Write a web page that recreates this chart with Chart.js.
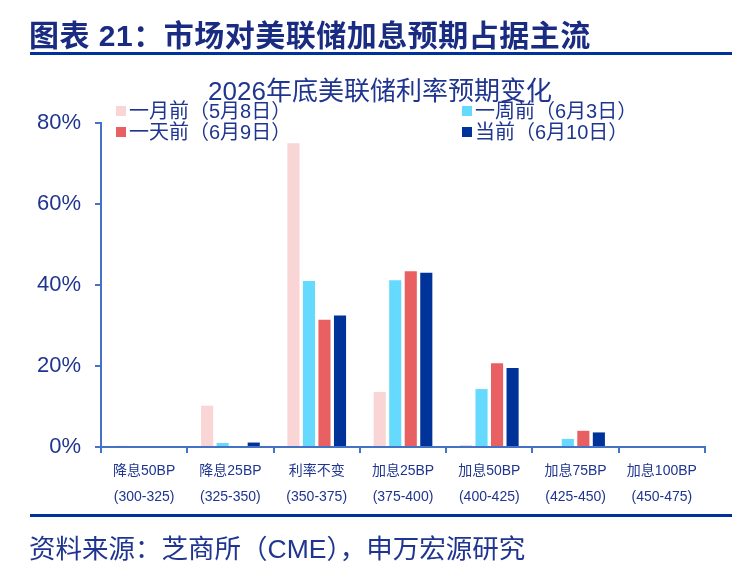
<!DOCTYPE html>
<html>
<head>
<meta charset="utf-8">
<script src="https://cdn.jsdelivr.net/npm/chart.js@4.4.1/dist/chart.umd.min.js"></script>
<style>
  body { margin: 0; width: 732px; height: 566px; background: #fff; position: relative; overflow: hidden;
         font-family: "Liberation Sans", "Noto Sans CJK SC", sans-serif; color: #1f3590; }
  #wrap { position: absolute; left: 0; top: 0; width: 732px; height: 566px; }
  .head { position: absolute; left: 29px; top: 11px; font-size: 30px; font-weight: bold; color: #1a2b82; white-space: nowrap; letter-spacing: 0.5px; }
  .rule { position: absolute; left: 30px; right: 0; height: 3px; background: #003399; }
  .ctitle { position: absolute; left: 0; width: 760px; top: 70px; text-align: center; font-size: 26px; color: #1f3590; }
  .leg { position: absolute; font-size: 20px; color: #1f3590; white-space: nowrap; line-height: 22px; }
  .leg i { display: inline-block; width: 10px; height: 10px; margin-right: 3px; vertical-align: 2px; }
  .foot { position: absolute; left: 29px; top: 527px; font-size: 26.5px; color: #1f3590; white-space: nowrap; }
</style>
</head>
<body>
<div id="wrap"><canvas id="myChart" width="732" height="566"></canvas></div>
<div class="head">图表 21：市场对美联储加息预期占据主流</div>
<div class="rule" style="top:52px"></div>
<div class="ctitle">2026年底美联储利率预期变化</div>
<div id="legend"></div>
<div class="rule" style="top:514px"></div>
<div class="foot">资料来源：芝商所（CME），申万宏源研究</div>
<script>
// categories (two-line tick labels)
const categories = ['降息50BP', '降息25BP', '利率不变', '加息25BP', '加息50BP', '加息75BP', '加息100BP'];
const ranges = ['(300-325)', '(325-350)', '(350-375)', '(375-400)', '(400-425)', '(425-450)', '(450-475)'];

// probability, %
const monthAgo = [0.3, 10.2, 75.0, 13.6, 0.5, 0, 0];   // 一月前（5月8日）
const weekAgo  = [0, 1.0, 41.0, 41.2, 14.3, 2.0, 0];   // 一周前（6月3日）
const dayAgo   = [0, 0, 31.4, 43.4, 20.7, 4.0, 0];     // 一天前（6月9日）
const current  = [0, 1.1, 32.5, 43.0, 19.5, 3.6, 0];   // 当前（6月10日）

const seriesNames = ['一月前（5月8日）', '一周前（6月3日）', '一天前（6月9日）', '当前（6月10日）'];
const seriesColors = ['#f9d5d5', '#66d9ff', '#e86062', '#003399'];
const yTicks = [0, 20, 40, 60, 80];

const axisColor = '#4472c4';
const textColor = '#1f3590';

// legend, two columns like the original
const legendPos = [[116, 100], [462, 100], [116, 121], [462, 121]];
const legendBox = document.getElementById('legend');
seriesNames.forEach((name, i) => {
  const d = document.createElement('div');
  d.className = 'leg';
  d.style.left = legendPos[i][0] + 'px';
  d.style.top = legendPos[i][1] + 'px';
  d.innerHTML = '<i style="background:' + seriesColors[i] + '"></i>' + name;
  legendBox.appendChild(d);
});

function createChart() {
  const ctx = document.getElementById('myChart').getContext('2d');
  const values = [monthAgo, weekAgo, dayAgo, current];

  const myChart = new Chart(ctx, {
    type: 'bar',
    data: {
      labels: categories.map((c, i) => [c, ranges[i]]),
      datasets: values.map((v, i) => ({
        label: seriesNames[i],
        data: v,
        backgroundColor: seriesColors[i],
        borderWidth: 0,
        categoryPercentage: 0.72,
        barPercentage: 0.78
      }))
    },
    options: {
      responsive: false,
      animation: false,
      layout: { padding: { left: 10, right: 27, top: 123, bottom: 59 } },
      scales: {
        x: {
          grid: { display: true, drawOnChartArea: false, offset: true, color: axisColor, lineWidth: 2, tickLength: 6 },
          border: { color: axisColor, width: 2 },
          ticks: { color: textColor, font: { family: '"Liberation Sans", "Noto Sans CJK SC"', size: 14, lineHeight: 1.8 }, padding: 6, maxRotation: 0 },
          afterFit: (scale) => { scale.height = 60; }
        },
        y: {
          min: 0,
          max: 80,
          afterBuildTicks: (scale) => { scale.ticks = yTicks.map(v => ({ value: v })); },
          grid: { display: true, drawOnChartArea: false, color: axisColor, lineWidth: 2, tickLength: 6 },
          border: { color: axisColor, width: 2 },
          ticks: {
            color: textColor,
            font: { family: '"Liberation Sans"', size: 22 },
            padding: 14,
            callback: (v) => v + '%'
          },
          afterFit: (scale) => { scale.width = 91; }
        }
      },
      plugins: {
        legend: { display: false },
        title: { display: false },
        tooltip: { enabled: false }
      }
    }
  });
}

createChart();
</script>
</body>
</html>
